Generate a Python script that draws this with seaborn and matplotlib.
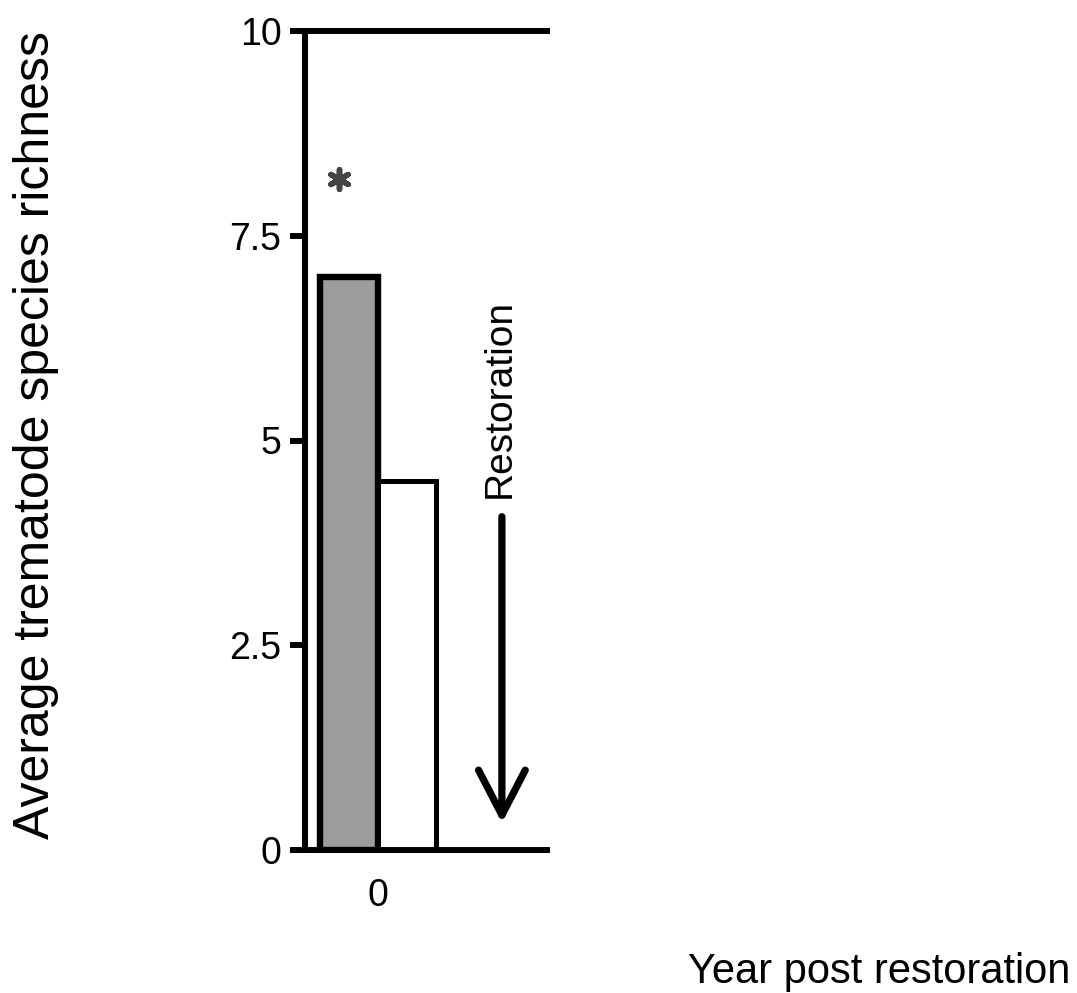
import matplotlib
matplotlib.use("Agg")
import matplotlib.pyplot as plt
import seaborn as sns
import pandas as pd

# ---- data ----
years = ["0", "0"]
groups = ["Group A", "Group B"]
richness = [7.0, 4.5]
yticks = [0, 2.5, 5, 7.5, 10]
ytick_labels = ["0", "2.5", "5", "7.5", "10"]
ylabel = "Average trematode species richness"
xlabel = "Year post restoration"
annotation_text = "Restoration"
star_pos = (-0.27, 8.19)
arrow_x = 0.855
arrow_from = 4.07
arrow_to = 0.33

sns.set_theme(style="white")
plt.rcParams["font.family"] = ["Liberation Sans", "DejaVu Sans"]
plt.rcParams["text.color"] = "black"
plt.rcParams["axes.labelcolor"] = "black"
plt.rcParams["xtick.color"] = "black"
plt.rcParams["ytick.color"] = "black"

df = pd.DataFrame({"year": years, "group": groups, "richness": richness})

fig = plt.figure(figsize=(10.77, 9.93), dpi=100)
ax = fig.add_axes([305 / 1077, 1 - 850 / 993, 242 / 1077, 819 / 993])

sns.barplot(data=df, x="year", y="richness", hue="group",
            palette=["#9c9d9a", "#ffffff"], edgecolor="black",
            width=0.8, dodge=True, legend=False, ax=ax, errorbar=None)

lws = [4.6, 3.6]
for p, lw in zip(ax.patches, lws):
    p.set_linewidth(lw)
    p.set_edgecolor("black")

ax.set_xlim(-0.503, 1.166)
ax.set_ylim(0, 10)
ax.set_yticks(yticks)
ax.set_yticklabels(ytick_labels)

for side in ["left", "top", "bottom"]:
    ax.spines[side].set_visible(True)
    ax.spines[side].set_linewidth(4.3)
    ax.spines[side].set_color("black")
ax.spines["right"].set_visible(False)

ax.tick_params(axis="y", direction="out", length=11, width=4.3, color="black",
               labelsize=27, pad=6, left=True, labelcolor="black")
ax.tick_params(axis="x", length=0, labelsize=27, pad=20, bottom=True,
               labelcolor="black")

ax.set_ylabel(ylabel, fontsize=36, color="black")
ax.yaxis.label.set_va("center")
ax.yaxis.label.set_ha("center")
ax.yaxis.set_label_coords(-1.111, 0.507)

ax.set_xlabel(xlabel, fontsize=30, color="black")
ax.xaxis.label.set_va("baseline")
ax.xaxis.label.set_ha("center")
ax.xaxis.set_label_coords(2.372, -0.1624)

# significance star
ax.scatter([star_pos[0]], [star_pos[1]], marker=(6, 2, 0), s=200,
           linewidths=4, color="#444444", zorder=5)

# restoration arrow and text
ax.annotate("", xy=(arrow_x, arrow_to), xytext=(arrow_x, arrow_from),
            arrowprops=dict(arrowstyle="->,head_length=2.7,head_width=1.4",
                            lw=5.2, color="black", shrinkA=0, shrinkB=0))
ax.text(0.91, 5.507, annotation_text, rotation=90, rotation_mode="anchor",
        ha="center", va="baseline", fontsize=28, color="black")

fig.savefig("out.png", dpi=100, facecolor="white")
